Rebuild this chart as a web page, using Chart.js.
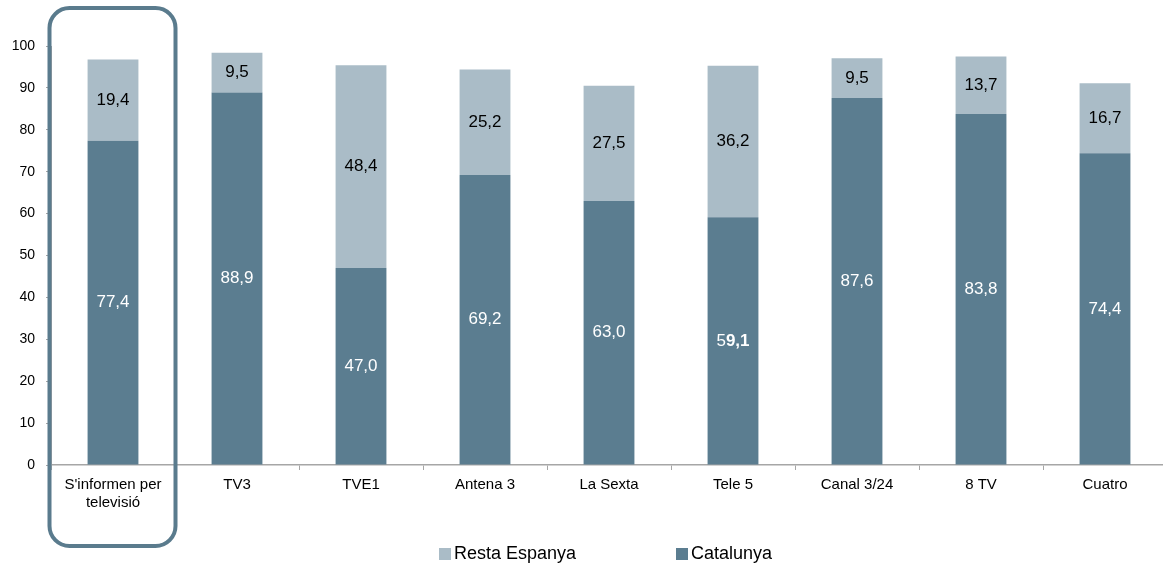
<!DOCTYPE html>
<html lang="ca">
<head>
    <meta charset="UTF-8">
    <title>S'informen per televisió</title>
    <script src="https://cdn.jsdelivr.net/npm/chart.js"></script>
    <style>
        body {
            margin: 0;
            width: 1163px;
            height: 564px;
            overflow: hidden;
            background: #fff;
            font-family: 'Liberation Sans', Arial, sans-serif;
            position: relative;
        }
        .chart-wrap {
            position: absolute;
            left: 0;
            top: 0;
            width: 1170px;
            height: 564px;
        }
        .legend {
            position: absolute;
            left: 48px;
            right: 0;
            top: 541px;
            height: 24px;
            display: flex;
            justify-content: center;
            align-items: center;
            gap: 100px;
            font-size: 18px;
            color: #000;
        }
        .legend span.box {
            display: inline-block;
            width: 12px;
            height: 12px;
            margin-right: 3px;
            vertical-align: -1px;
        }
    </style>
</head>
<body>
    <div class="chart-wrap"><canvas id="tvChart"></canvas></div>
    <div class="legend" id="legend"></div>

    <script>
        const categories = [
            ["S'informen per", "televisió"], 'TV3', 'TVE1', 'Antena 3', 'La Sexta',
            'Tele 5', 'Canal 3/24', '8 TV', 'Cuatro'
        ];
        const catalunya = [77.4, 88.9, 47.0, 69.2, 63.0, 59.1, 87.6, 83.8, 74.4];
        const restaEspanya = [19.4, 9.5, 48.4, 25.2, 27.5, 36.2, 9.5, 13.7, 16.7];
        // in the original one label is half bold ("5" + bold "9,1")
        const boldTail = [0, 0, 0, 0, 0, 2, 0, 0, 0];

        const darkBlue = '#5b7d90';
        const lightBlue = '#aabcc7';
        const axisGrey = '#a6a6a6';
        const fontFamily = "'Liberation Sans', Arial, sans-serif";

        const fmt = v => v.toFixed(1).replace('.', ',');

        // values written in the middle of each segment
        const segmentLabels = {
            id: 'segmentLabels',
            afterDatasetsDraw(chart) {
                const ctx = chart.ctx;
                const size = 17;
                ctx.save();
                ctx.textBaseline = 'middle';
                chart.data.datasets.forEach((ds, di) => {
                    const meta = chart.getDatasetMeta(di);
                    meta.data.forEach((bar, i) => {
                        const text = fmt(ds.data[i]);
                        const y = (bar.y + bar.base) / 2;
                        ctx.fillStyle = ds.labelColor;
                        const tail = di === 0 ? boldTail[i] : 0;
                        if (tail) {
                            const headTxt = text.slice(0, text.length - tail - 1);
                            const tailTxt = text.slice(text.length - tail - 1);
                            ctx.font = size + 'px ' + fontFamily;
                            const w1 = ctx.measureText(headTxt).width;
                            ctx.font = 'bold ' + size + 'px ' + fontFamily;
                            const w2 = ctx.measureText(tailTxt).width;
                            const x0 = bar.x - (w1 + w2) / 2;
                            ctx.textAlign = 'left';
                            ctx.font = size + 'px ' + fontFamily;
                            ctx.fillText(headTxt, x0, y);
                            ctx.font = 'bold ' + size + 'px ' + fontFamily;
                            ctx.fillText(tailTxt, x0 + w1, y);
                        } else {
                            ctx.font = size + 'px ' + fontFamily;
                            ctx.textAlign = 'center';
                            ctx.fillText(text, bar.x, y);
                        }
                    });
                });
                ctx.restore();
            }
        };

        // rounded frame around the first category
        const highlightBox = {
            id: 'highlightBox',
            afterDraw(chart) {
                const x = chart.scales.x;
                const step = x.getPixelForValue(1) - x.getPixelForValue(0);
                const left = x.getPixelForValue(0) - step / 2 - 1.5;
                const right = left + step + 2;
                const top = 8, bottom = 546, r = 20;
                const ctx = chart.ctx;
                ctx.save();
                ctx.strokeStyle = '#5a7b8d';
                ctx.lineWidth = 4;
                ctx.beginPath();
                ctx.roundRect(left, top, right - left, bottom - top, r);
                ctx.stroke();
                ctx.restore();
            }
        };

        const chart = new Chart(document.getElementById('tvChart'), {
            type: 'bar',
            data: {
                labels: categories,
                datasets: [
                    {
                        label: 'Catalunya',
                        data: catalunya,
                        backgroundColor: darkBlue,
                        labelColor: '#ffffff',
                        barPercentage: 0.41,
                        categoryPercentage: 1
                    },
                    {
                        label: 'Resta Espanya',
                        data: restaEspanya,
                        backgroundColor: lightBlue,
                        labelColor: '#000000',
                        barPercentage: 0.41,
                        categoryPercentage: 1
                    }
                ]
            },
            options: {
                responsive: true,
                maintainAspectRatio: false,
                animation: false,
                layout: { padding: { top: 46, right: 3, bottom: 51, left: 0 } },
                plugins: {
                    legend: { display: false },
                    tooltip: { enabled: false }
                },
                scales: {
                    x: {
                        stacked: true,
                        grid: {
                            drawOnChartArea: false,
                            tickLength: 5,
                            color: axisGrey
                        },
                        border: { color: axisGrey, width: 1.5 },
                        ticks: {
                            color: '#000',
                            padding: 6,
                            maxRotation: 0,
                            autoSkip: false,
                            font: { family: fontFamily, size: 15, lineHeight: 1.2 }
                        },
                        afterFit(scale) { scale.height = 48; }
                    },
                    y: {
                        stacked: true,
                        min: 0,
                        max: 100,
                        grid: {
                            drawOnChartArea: false,
                            tickLength: 5,
                            color: axisGrey
                        },
                        border: { color: axisGrey },
                        ticks: {
                            stepSize: 10,
                            color: '#000',
                            padding: 11,
                            font: { family: fontFamily, size: 14 }
                        },
                        afterFit(scale) { scale.width = 51; }
                    }
                }
            },
            plugins: [segmentLabels, highlightBox]
        });

        // legend below the chart, Resta Espanya first
        const legend = document.getElementById('legend');
        [...chart.data.datasets].reverse().forEach(ds => {
            const item = document.createElement('div');
            item.innerHTML = '<span class="box" style="background:' + ds.backgroundColor + '"></span>' + ds.label;
            legend.appendChild(item);
        });
    </script>
</body>
</html>
